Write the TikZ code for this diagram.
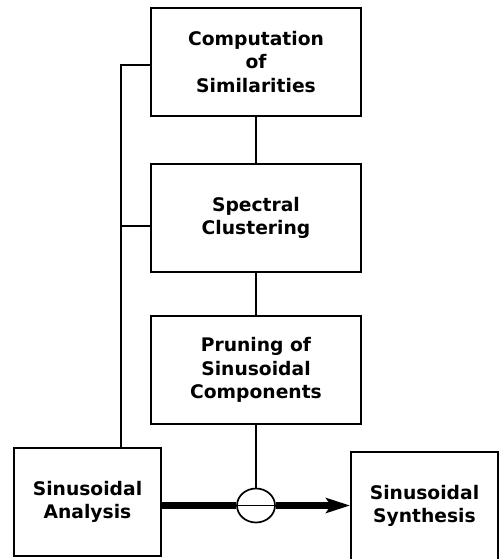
\documentclass[tikz,border=0pt]{standalone}
\usepackage{fontspec}
\setmainfont{DejaVu Sans}
\usetikzlibrary{shapes,arrows,positioning,calc,arrows.meta}

\tikzset{
    stage/.style={draw, line width=2.3pt, minimum width=209.7pt, minimum height=107.7pt,
        align=center, font=\fontsize{18.7}{23.5}\selectfont\bfseries},
    endbox/.style={stage, minimum width=146.7pt},
    link/.style={line width=1.7pt},
    signal/.style={line width=6.3pt}
}

\begin{document}
\begin{tikzpicture}[x=1pt, y=-1pt]
    \useasboundingbox (0,0) rectangle (501,559);
    % Stages
    \node[stage] (comp) at (256,62) {Computation\\of\\Similarities};
    \node[stage] (spec) at (256,218) {Spectral\\Clustering};
    \node[stage] (prun) at (256,370) {Pruning of\\Sinusoidal\\Components};
    \node[endbox] (ana) at (87.5,502) {Sinusoidal\\Analysis};
    \node[endbox] (syn) at (424.5,506) {Sinusoidal\\Synthesis};
    \node[draw, ellipse, line width=1.7pt, minimum width=38pt, minimum height=34pt,
        inner sep=0pt] (mix) at (256,505.5) {};

    % Links
    \coordinate (t1) at (121,65);
    \coordinate (t2) at (121,226);
    \draw[link] (ana.north -| t1) -- (t1) -- (t1 -| comp.west);
    \draw[link] (t2) -- (t2 -| spec.west);
    \draw[link] (comp) -- (spec);
    \draw[link] (spec) -- (prun);
    \draw[link, line width=2.2pt] (prun) -- (mix);
    \draw[line width=1.2pt] (mix.west) -- (mix.east);

    % Signal path
    \draw[signal] (ana.east |- mix) -- (mix.west);
    \draw[signal, -{Stealth[length=24pt, width=15pt, inset=5pt]}] (mix.east) -- (syn.west |- mix);
\end{tikzpicture}
\end{document}
